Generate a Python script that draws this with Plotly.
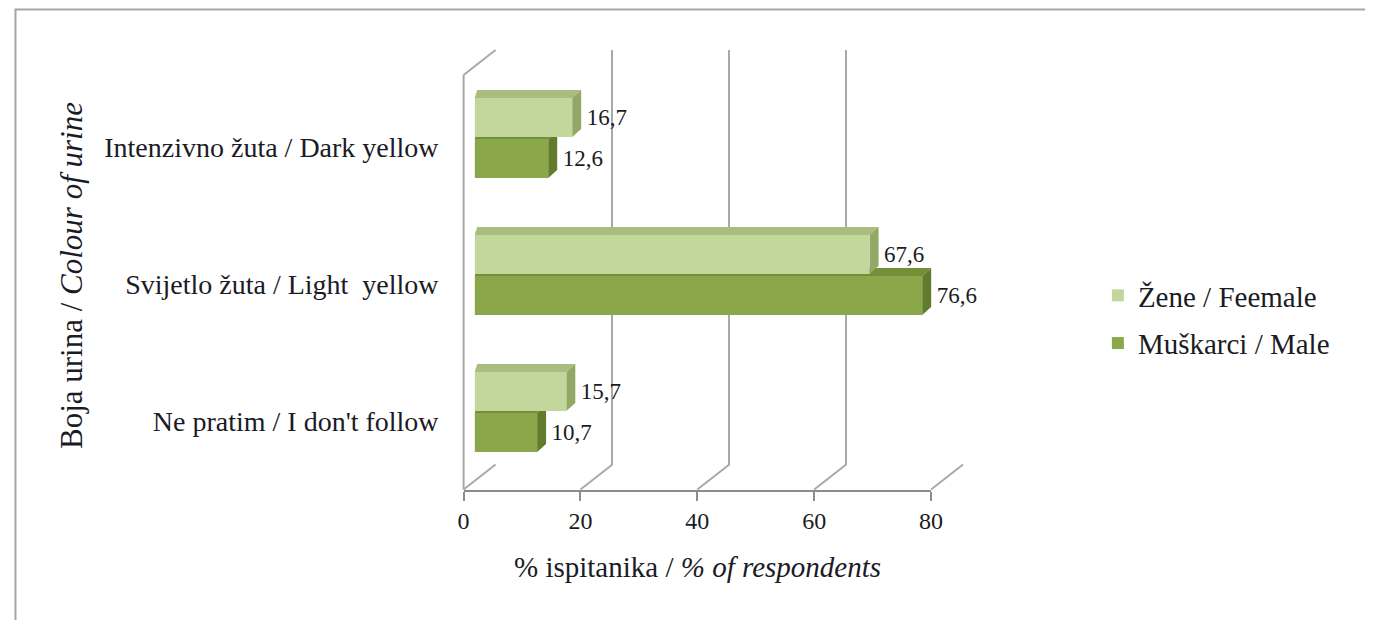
import plotly.graph_objects as go

# ---------------- data ----------------
categories = ["Ne pratim / I don't follow",
              "Svijetlo žuta / Light  yellow",
              "Intenzivno žuta / Dark yellow"]
male_values = [10.7, 76.6, 12.6]
female_values = [15.7, 67.6, 16.7]
male_name = "Muškarci / Male"
female_name = "Žene / Feemale"
x_ticks = [0, 20, 40, 60, 80]
x_title = "% ispitanika / <i>% of respondents</i>"
y_title = "Boja urina / <i>Colour of urine</i>"

# ---------------- geometry (target pixels) ----------------
PAGE_MARGIN = 8                      # browser body margin
W = 1373
H = 628 - 2 * PAGE_MARGIN
XMAX = 80
# horizontal calibration of the photographed page
CAL_A, CAL_S = 5.0, 0.988


def px(x):
    return ((x - CAL_A) / CAL_S - PAGE_MARGIN) / W


def py(y):
    return 1 - (y - PAGE_MARGIN) / H


FRONT_L, FRONT_R = 463, 931          # front plane, value 0 .. 80
FRONT_T, FRONT_B = 78.5, 489.5       # front plane category band
BAR_DX, BAR_DY = 11, -9              # bars plane offset
BACK_DX, BACK_DY = 32, -25           # back wall offset
WALL_TOP_FRONT = 75

BARGAP, GROUPGAP = 0.40, 0.05
SIDE_DX_PX, SIDE_DY_PX = 9, 8        # 3-D depth of each bar

scale = (FRONT_R - FRONT_L) / XMAX
n = len(categories)
band = (FRONT_B - FRONT_T) / n

LIGHT = "#c3d69b"
LIGHT_TOP = "#a8bd7e"
LIGHT_SIDE = "#93a866"
DARK = "#8aa84a"
DARK_TOP = "#748f3a"
DARK_SIDE = "#627c2e"
GRID = "#a9a9a9"
TXT = "#1b1b25"
FONT = "Liberation Serif, Tinos, Times New Roman, Times, serif"

fig = go.Figure()

ypos = list(range(n))

# back-wall anchor (invisible)
fig.add_trace(go.Scatter(
    x=x_ticks, y=[0.5] * len(x_ticks), mode="markers", marker=dict(opacity=0),
    xaxis="x", yaxis="y", showlegend=False, hoverinfo="skip",
))
# bars (plane slightly behind the front)
fig.add_trace(go.Bar(
    y=ypos, x=male_values, orientation="h", name=male_name,
    marker=dict(color=DARK, line=dict(width=0)),
    xaxis="x2", yaxis="y2", legendgroup="m", legendrank=2,
    texttemplate="\u00a0\u00a0%{x:.1f}", textposition="outside",
    textfont=dict(size=23, color=TXT, family=FONT),
    cliponaxis=False, constraintext="none", hoverinfo="skip",
))
fig.add_trace(go.Bar(
    y=ypos, x=female_values, orientation="h", name=female_name,
    marker=dict(color=LIGHT, line=dict(width=0)),
    xaxis="x2", yaxis="y2", legendgroup="f", legendrank=1,
    texttemplate="\u00a0\u00a0%{x:.1f}", textposition="outside",
    textfont=dict(size=23, color=TXT, family=FONT),
    cliponaxis=False, constraintext="none", hoverinfo="skip",
))
# invisible anchor trace for front axes (category labels)
fig.add_trace(go.Scatter(
    y=ypos, x=[0] * n, mode="markers", marker=dict(opacity=0),
    xaxis="x3", yaxis="y3", showlegend=False, hoverinfo="skip",
))

# ---------------- 3-D faces of bars ----------------
dxu = SIDE_DX_PX / scale
dyu = SIDE_DY_PX / band
slot = (1 - BARGAP) / 2
bw = slot * (1 - GROUPGAP)
shapes = []
for series_idx, (vals, top_c, side_c) in enumerate(
        [(male_values, DARK_TOP, DARK_SIDE), (female_values, LIGHT_TOP, LIGHT_SIDE)]):
    for i, v in enumerate(vals):
        center = ypos[i] - (1 - BARGAP) / 2 + slot * (series_idx + 0.5)
        yb, yt = center - bw / 2, center + bw / 2
        shapes.append(dict(
            type="path", xref="x2", yref="y2", layer="below",
            path=f"M0,{yt} L{v},{yt} L{v + dxu},{yt + dyu} L{dxu * 0.3},{yt + dyu} Z",
            fillcolor=top_c, line=dict(width=0)))
        shapes.append(dict(
            type="path", xref="x2", yref="y2", layer="below",
            path=f"M{v},{yb} L{v},{yt} L{v + dxu},{yt + dyu} L{v + dxu},{yb + dyu} Z",
            fillcolor=side_c, line=dict(width=0)))

# ---------------- walls / floor ----------------
for t in x_ticks:
    fx = FRONT_L + t * scale
    shapes.append(dict(type="line", xref="paper", yref="paper",
                       x0=px(fx), y0=py(FRONT_B), x1=px(fx + BACK_DX), y1=py(FRONT_B + BACK_DY),
                       line=dict(color=GRID, width=2), layer="below"))
shapes.append(dict(type="line", xref="paper", yref="paper",
                   x0=px(FRONT_L), y0=py(FRONT_B), x1=px(FRONT_L), y1=py(WALL_TOP_FRONT),
                   line=dict(color=GRID, width=2), layer="below"))
shapes.append(dict(type="line", xref="paper", yref="paper",
                   x0=px(FRONT_L), y0=py(WALL_TOP_FRONT), x1=px(FRONT_L + BACK_DX),
                   y1=py(WALL_TOP_FRONT + BACK_DY),
                   line=dict(color=GRID, width=2), layer="below"))
# outer frame
shapes.append(dict(type="rect", xref="paper", yref="paper",
                   x0=1.5 / W, y0=-0.1, x1=px(1368), y1=1 - 1.5 / H,
                   line=dict(color="#a6a6a6", width=2), layer="below"))

annotations = [
    dict(text=x_title, xref="paper", yref="paper", x=px(697), y=py(567),
         showarrow=False, font=dict(size=29, color=TXT, family=FONT),
         xanchor="center", yanchor="middle"),
    dict(text=y_title, xref="paper", yref="paper", x=px(70), y=py(276),
         showarrow=False, textangle=-90, font=dict(size=31, color=TXT, family=FONT),
         xanchor="center", yanchor="middle"),
]

fig.update_layout(
    width=W, height=H,
    margin=dict(l=0, r=0, t=0, b=0),
    paper_bgcolor="white", plot_bgcolor="rgba(0,0,0,0)",
    separators=",.",
    barmode="group", bargap=BARGAP, bargroupgap=GROUPGAP,
    font=dict(family=FONT, color=TXT),
    showlegend=True,
    legend=dict(x=px(1098), y=py(270), xanchor="left", yanchor="top",
                font=dict(size=29, family=FONT, color=TXT),
                traceorder="grouped", tracegroupgap=7,
                bgcolor="rgba(0,0,0,0)"),
    shapes=shapes, annotations=annotations,
    # back wall gridlines
    xaxis=dict(domain=[px(FRONT_L + BACK_DX), px(FRONT_R + BACK_DX)], range=[0, XMAX],
               tickvals=x_ticks, showticklabels=False, showgrid=True,
               gridcolor=GRID, gridwidth=2, zeroline=False, showline=False,
               anchor="y"),
    yaxis=dict(domain=[py(FRONT_B + BACK_DY), py(50)], range=[0, 1],
               showticklabels=False, showgrid=False, zeroline=False, anchor="x"),
    # bars plane
    xaxis2=dict(domain=[px(FRONT_L + BAR_DX), px(FRONT_R + BAR_DX)], range=[0, XMAX],
                showticklabels=False, showgrid=False, zeroline=False, showline=False,
                anchor="y2"),
    yaxis2=dict(domain=[py(FRONT_B + BAR_DY), py(FRONT_T + BAR_DY)], range=[-0.5, n - 0.5],
                showticklabels=False, showgrid=False, zeroline=False, showline=False,
                anchor="x2"),
    # front axes
    xaxis3=dict(domain=[px(FRONT_L), px(FRONT_R)], range=[0, XMAX],
                tickvals=x_ticks, ticks="outside", ticklen=9, tickwidth=2, tickcolor="#8c8c8c",
                showline=True, linecolor="#8c8c8c", linewidth=2, showgrid=False, zeroline=False,
                tickfont=dict(size=24, family=FONT, color=TXT), anchor="y3"),
    yaxis3=dict(domain=[py(FRONT_B), py(FRONT_T)], range=[-0.5, n - 0.5],
                tickvals=ypos, ticktext=categories, ticks="", showline=False,
                showgrid=False, zeroline=False, ticklabelstandoff=24,
                tickfont=dict(size=28, family=FONT, color=TXT), anchor="x3"),
)

fig.write_html("out.html")
